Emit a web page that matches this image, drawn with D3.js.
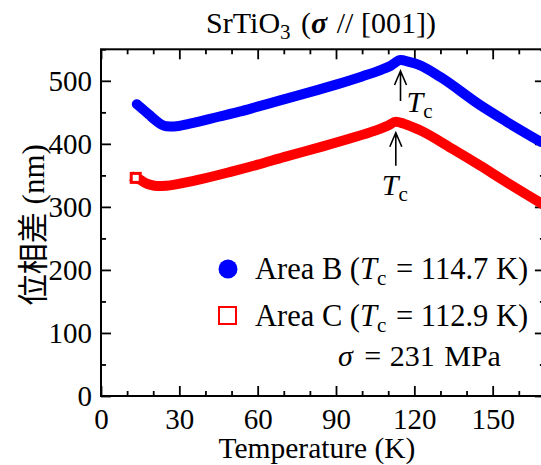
<!DOCTYPE html>
<html>
<head>
<meta charset="utf-8">
<script src="https://cdn.jsdelivr.net/npm/d3@7"></script>
<style>
  body { margin: 0; background: #fff; }
  text { font-family: "Liberation Serif", "Noto Sans CJK JP", serif; fill: #000; }
</style>
</head>
<body>
<div id="container"></div>
<script>
let w = 541;
let h = 465;

// DATA
let blueT = [13.7, 16, 18.5, 20.7, 23, 25, 28, 34, 45, 53, 60, 68.6, 80, 90, 100, 107, 111, 114.7, 118, 122, 130, 145, 155, 168.5];
let blueV = [463, 455, 446, 438, 431, 428, 427.5, 432, 443, 451, 459, 469, 482, 494, 507, 517, 524, 533, 530, 525, 506, 462, 436, 403];

let redT = [13.3, 15, 17, 19, 21.5, 25, 35, 50, 60, 70, 85, 95, 105, 110, 112.9, 116, 122, 135, 145, 155, 168.5];
let redV = [346, 343, 338, 335, 333, 333.5, 341, 356, 367, 379, 396, 408, 421, 429, 435, 432, 422, 391, 366, 340, 306];

let xMajor = [0, 30, 60, 90, 120, 150];
let xMinor = [10, 20, 40, 50, 70, 80, 100, 110, 130, 140, 160, 170];
let yMajor = [0, 100, 200, 300, 400, 500];
let yMinor = [50, 150, 250, 350, 450, 550];

let tcB = 114.7, tcC = 112.9;
let tcBVal = 533, tcCVal = 435;

// SVG
let viz = d3.select("#container").append("svg")
    .attr("width", w)
    .attr("height", h)
    .style("display", "block");

// SCALES
let xScale = d3.scaleLinear().domain([0, 170]).range([101, 544.9]);
let yScale = d3.scaleLinear().domain([0, 550]).range([396, 49.3]);

let x0 = xScale.range()[0], x1 = xScale.range()[1];
let y0 = yScale.range()[0], y1 = yScale.range()[1];

// clip
viz.append("defs").append("clipPath").attr("id", "plotclip")
  .append("rect").attr("x", x0).attr("y", y1).attr("width", x1 - x0).attr("height", y0 - y1);

// AXES (ticks inward)
function styleAxis(g){
  g.select(".domain").remove();
  g.selectAll(".tick line").attr("stroke", "#000").attr("stroke-width", 1.8);
}

viz.append("g").attr("transform", "translate(0," + y0 + ")")
  .call(d3.axisBottom(xScale).tickValues(xMajor).tickSize(-10).tickPadding(10))
  .call(styleAxis)
  .selectAll("text").style("font-size", "29px").attr("dy", "0.78em");
viz.append("g").attr("transform", "translate(0," + y0 + ")")
  .call(d3.axisBottom(xScale).tickValues(xMinor).tickSize(-5).tickFormat(""))
  .call(styleAxis);
viz.append("g").attr("transform", "translate(0," + y1 + ")")
  .call(d3.axisTop(xScale).tickValues(xMajor).tickSize(-10).tickFormat(""))
  .call(styleAxis);
viz.append("g").attr("transform", "translate(0," + y1 + ")")
  .call(d3.axisTop(xScale).tickValues(xMinor).tickSize(-5).tickFormat(""))
  .call(styleAxis);

viz.append("g").attr("transform", "translate(" + x0 + ",0)")
  .call(d3.axisLeft(yScale).tickValues(yMajor).tickSize(-10).tickPadding(9))
  .call(styleAxis)
  .selectAll("text").style("font-size", "29px").attr("dy", "0.34em");
viz.append("g").attr("transform", "translate(" + x0 + ",0)")
  .call(d3.axisLeft(yScale).tickValues(yMinor).tickSize(-5).tickFormat(""))
  .call(styleAxis);
viz.append("g").attr("transform", "translate(" + x1 + ",0)")
  .call(d3.axisRight(yScale).tickValues(yMajor).tickSize(-10).tickFormat(""))
  .call(styleAxis);
viz.append("g").attr("transform", "translate(" + x1 + ",0)")
  .call(d3.axisRight(yScale).tickValues(yMinor).tickSize(-5).tickFormat(""))
  .call(styleAxis);

// frame
viz.append("rect")
  .attr("x", x0).attr("y", y1)
  .attr("width", x1 - x0).attr("height", y0 - y1)
  .attr("fill", "none").attr("stroke", "#000").attr("stroke-width", 2);

// CURVES
let lineMaker = d3.line()
  .x(function(d){ return xScale(d[0]); })
  .y(function(d){ return yScale(d[1]); })
  .curve(d3.curveMonotoneX);

let blueData = blueT.map(function(t, i){ return [t, blueV[i]]; });
let redData = redT.map(function(t, i){ return [t, redV[i]]; });

let plot = viz.append("g").attr("clip-path", "url(#plotclip)");

plot.append("path")
  .attr("d", lineMaker(redData))
  .attr("fill", "none")
  .attr("stroke", "#ff0000")
  .attr("stroke-width", 10)
  .attr("stroke-linejoin", "round")
  .attr("stroke-linecap", "square");

// first red square marker (open)
plot.append("rect")
  .attr("x", xScale(redT[0]) - 4.5)
  .attr("y", yScale(redV[0]) - 4.5)
  .attr("width", 9).attr("height", 9)
  .attr("fill", "#fff")
  .attr("stroke", "#ff0000")
  .attr("stroke-width", 3);

plot.append("path")
  .attr("d", lineMaker(blueData))
  .attr("fill", "none")
  .attr("stroke", "#0000ff")
  .attr("stroke-width", 10)
  .attr("stroke-linejoin", "round")
  .attr("stroke-linecap", "round");

// Tc ARROWS
function tcArrow(t, v, len){
  let ax = xScale(t);
  let ay = yScale(v) + 11;
  viz.append("path")
    .attr("d", "M" + ax + "," + (ay + len) + "L" + ax + "," + ay +
               "M" + (ax - 6) + "," + (ay + 14) + "L" + ax + "," + ay + "L" + (ax + 6) + "," + (ay + 14))
    .attr("fill", "none")
    .attr("stroke", "#000")
    .attr("stroke-width", 1.6);
}
tcArrow(tcB, tcBVal, 30);
tcArrow(tcC, tcCVal, 33);

function tcLabel(x, y){
  let t = viz.append("text").attr("x", x).attr("y", y).style("font-size", "30px");
  t.append("tspan").style("font-style", "italic").text("T");
  t.append("tspan").attr("dy", 6).style("font-size", "21px").text("c");
}
tcLabel(xScale(tcB) + 6, 112);
tcLabel(xScale(tcC) - 14, 195);

// TITLE
let title = viz.append("text")
  .attr("x", 321).attr("y", 33)
  .attr("text-anchor", "middle")
  .style("font-size", "30px");
title.append("tspan").text("SrTiO");
title.append("tspan").attr("dy", 6).style("font-size", "21px").text("3");
title.append("tspan").attr("dy", -6).attr("dx", 3).text(" (");
title.append("tspan").style("font-weight", "bold").style("font-style", "italic").text("σ");
title.append("tspan").attr("dx", 2).text(" // [001])");

// AXIS LABELS
viz.append("text")
  .attr("x", (x0 + x1) / 2 - 6).attr("y", 458)
  .attr("text-anchor", "middle")
  .style("font-size", "29.5px")
  .text("Temperature (K)");

viz.append("text")
  .attr("transform", "translate(44," + ((y0 + y1) / 2 + 2) + ") rotate(-90)")
  .attr("text-anchor", "middle")
  .style("font-size", "31px")
  .text("位相差 (nm)");

// LEGEND
viz.append("circle")
  .attr("cx", 228).attr("cy", 269).attr("r", 9.5)
  .attr("fill", "#0000ff");
viz.append("rect")
  .attr("x", 219).attr("y", 307).attr("width", 17).attr("height", 17)
  .attr("fill", "none").attr("stroke", "#ff0000").attr("stroke-width", 2);

function legendText(x, y, name, tc){
  let t = viz.append("text").attr("x", x).attr("y", y).style("font-size", "30.5px");
  t.append("tspan").text(name + " (");
  t.append("tspan").style("font-style", "italic").text("T");
  t.append("tspan").attr("dy", 6).style("font-size", "21px").text("c");
  t.append("tspan").attr("dy", -6).attr("dx", 2).text(" = " + tc + " K)");
}
legendText(255, 279, "Area B", "114.7");
legendText(255, 326, "Area C", "112.9");

let sig = viz.append("text").attr("x", 338).attr("y", 366).style("font-size", "30px");
sig.append("tspan").style("font-style", "italic").text("σ");
sig.append("tspan").attr("dx", 4).text(" =");
sig.append("tspan").attr("dx", 1).text(" 231");
sig.append("tspan").attr("dx", 2).text(" MPa");
</script>
</body>
</html>
